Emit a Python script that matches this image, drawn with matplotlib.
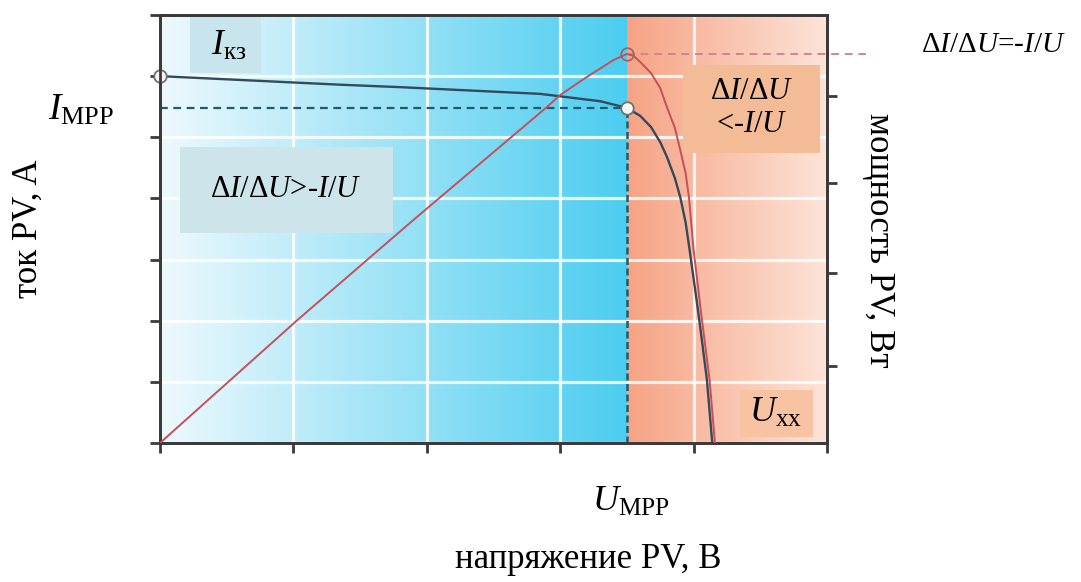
import numpy as np
import matplotlib.pyplot as plt
from matplotlib.colors import to_rgb
from matplotlib.patches import Rectangle

plt.rcParams['font.family'] = ['Liberation Serif', 'DejaVu Serif']
plt.rcParams['mathtext.fontset'] = 'custom'
plt.rcParams['mathtext.rm'] = 'Liberation Serif'
plt.rcParams['mathtext.it'] = 'Liberation Serif:italic'

# I-V curve of the PV module
voltage_i = [0, 1.35, 1.80, 2.85, 3.30, 3.50, 3.60, 3.68, 3.75, 3.80, 3.86, 3.90, 3.94, 3.97,
             4.04, 4.10, 4.14]
current = [6.0, 5.86, 5.82, 5.71, 5.59, 5.48, 5.35, 5.17, 4.92, 4.68, 4.33, 4.02, 3.61, 3.16,
           2.06, 1.03, 0]

# P-V curve
voltage_p = [0, 1.03, 1.90, 2.90, 3.00, 3.20, 3.40, 3.50, 3.55, 3.60, 3.68, 3.75, 3.80, 3.86,
             3.90, 3.94, 3.965, 4.00, 4.06, 4.12, 4.16]
power = [0, 6.09, 11.05, 16.64, 17.24, 18.13, 18.97, 19.27, 19.18, 18.87, 18.33, 17.58, 16.64,
         15.60, 14.51, 13.37, 12.18, 9.56, 6.24, 3.12, 0]

v_mpp, i_mpp, p_mpp, i_sc = 3.50, 5.48, 19.27, 6.0
x_ticks = [0, 1, 2, 3, 4, 5]
i_ticks = [0, 1, 2, 3, 4, 5, 6, 7]
p_ticks = [3.8, 8.4, 12.9, 17.2]

W, H = 1081, 582
fig = plt.figure(figsize=(W / 100, H / 100), dpi=100)
ax = fig.add_axes([160 / W, 1 - 443 / H, (827 - 160) / W, (443 - 15) / H])


def fx(x):
    return x / W


def fy(y):
    return 1 - y / H


def ramp(c0, c1, n):
    a = np.linspace(0, 1, n)[:, None]
    return ((1 - a) * np.array(to_rgb(c0)) + a * np.array(to_rgb(c1)))[None, :, :]


def label_box(x0, y0, x1, y1, color):
    ax.add_patch(Rectangle((fx(x0), fy(y1)), fx(x1) - fx(x0), fy(y0) - fy(y1),
                           transform=fig.transFigure, fc=color, ec='none', zorder=4))


# background: blue left of MPP, orange right of it
ax.imshow(ramp('#eef9fd', '#4ccdf0', 300), extent=[0, v_mpp, 0, 7], aspect='auto', zorder=-2)
ax.imshow(ramp('#f6a384', '#fde4d8', 200), extent=[v_mpp, 5, 0, 7], aspect='auto', zorder=-2)

ax.set_xlim(0, 5)
ax.set_ylim(0, 7)
ax.set_xticks(x_ticks)
ax.set_yticks(i_ticks)
ax.set_axisbelow(True)
ax.grid(color='white', lw=2.3, alpha=0.85)

edge = '#3a3a3a'
ax.tick_params(direction='out', length=7, width=2, color=edge, labelleft=False, labelbottom=False)
for s in ax.spines.values():
    s.set_color(edge)
    s.set_linewidth(2)

# current curve and MPP guides
ax.plot(voltage_i, current, color='#34495a', lw=1.7, zorder=3)
ax.plot([0, v_mpp], [i_mpp, i_mpp], color='#1f5b6c', lw=1.6, ls=(0, (3.5, 2.5)), zorder=3)
ax.plot([v_mpp, v_mpp], [0, i_mpp], color='#1f5b6c', lw=1.8, ls=(0, (2.8, 1.4)), zorder=3)
ax.plot([0, v_mpp], [i_sc, i_mpp], ls='none', marker='o', ms=9, mfc='#f6f6f6', mec='#707070',
        mew=1.3, clip_on=False, zorder=6)

# text boxes inside the plot
label_box(190, 17, 261, 73, '#c8e4ec')
label_box(180, 147, 393, 233, '#cde4ea')
label_box(683, 65, 820, 153, '#f4bc96')
label_box(740, 390, 813, 437, '#f8c3a3')
kw = dict(transform=fig.transFigure, ha='center', va='center', zorder=5)
ax.text(fx(229), fy(46), r'$I_{\mathrm{кз}}$', fontsize=26, **kw)
ax.text(fx(286), fy(190), r'$\Delta I/\Delta U$>-$I/U$', fontsize=22, **kw)
ax.text(fx(752), fy(108), r'$\Delta I/\Delta U$' + '\n' + r'<-$I/U$', fontsize=22,
        linespacing=1.15, **kw)
ax.text(fx(776), fy(413), r'$U_{\mathrm{xx}}$', fontsize=26, **kw)

# power curve on the right axis
ax2 = ax.twinx()
ax2.set_ylim(0, 21.2)
ax2.set_yticks(p_ticks)
ax2.tick_params(direction='out', length=7, width=2, color=edge, labelright=False)
for s in ax2.spines.values():
    s.set_color(edge)
    s.set_linewidth(2)
ax2.plot(voltage_p, power, color='#c4505a', lw=1.4, zorder=3)
ax2.plot([v_mpp, 5.29], [p_mpp, p_mpp], color='#d4838f', lw=1.4, ls=(0, (4, 3)), clip_on=False)
ax2.plot([v_mpp], [p_mpp], ls='none', marker='o', ms=9, mfc='none', mec='#a06468', mew=1.3, zorder=5)

# labels outside the axes
fig.text(fx(81), fy(110), r'$I_{\mathrm{MPP}}$', fontsize=27, ha='center', va='center')
fig.text(fx(28), fy(229), 'ток PV, A', fontsize=25, rotation=90, ha='center', va='center')
fig.text(fx(879), fy(240), 'мощность PV, Вт', fontsize=25, rotation=270, ha='center', va='center')
fig.text(fx(993), fy(45), r'$\Delta I/\Delta U$=-$I/U$', fontsize=21, ha='center', va='center')
fig.text(fx(631), fy(502), r'$U_{\mathrm{MPP}}$', fontsize=26, ha='center', va='center')
fig.text(fx(588), fy(560), 'напряжение PV, B', fontsize=25, ha='center', va='center')

fig.savefig('out.png', dpi=100)
